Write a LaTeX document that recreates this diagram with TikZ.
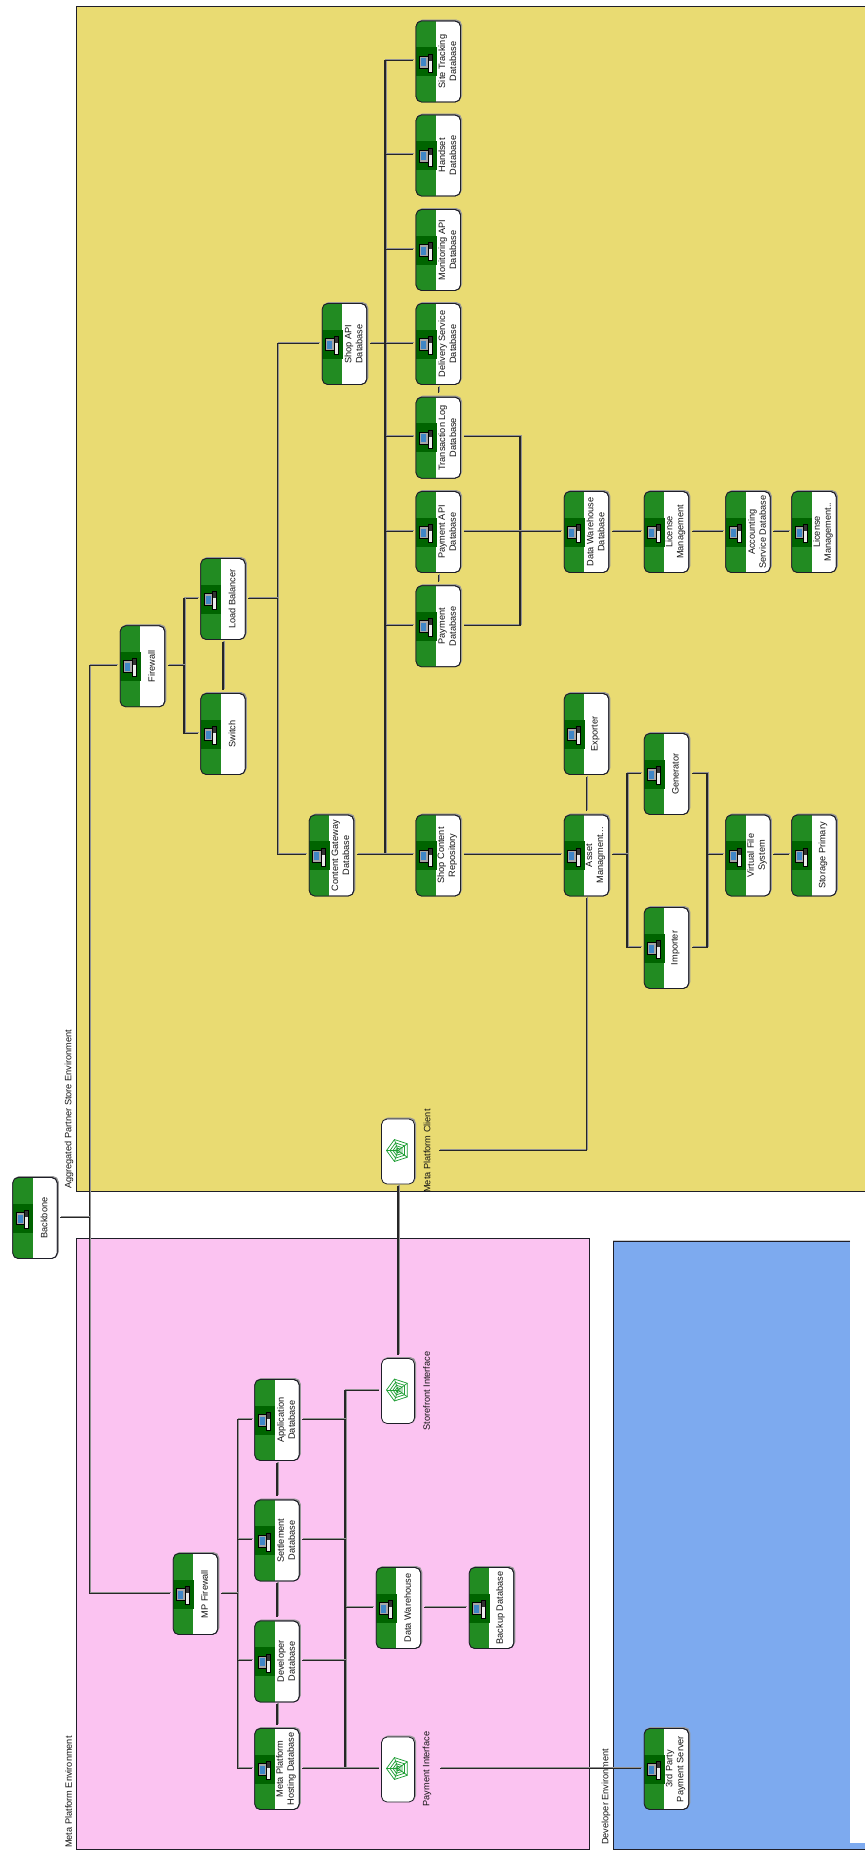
\documentclass[tikz,border=0pt]{standalone}
\usepackage{fontspec}
\setmainfont{Liberation Sans}
\usetikzlibrary{shadows,calc}
\definecolor{yel}{HTML}{E9DB72}
\definecolor{pnk}{HTML}{FBC3F1}
\definecolor{blu}{HTML}{7DAAEF}
\definecolor{grn}{HTML}{228B22}
\definecolor{dgrn}{HTML}{006400}
\definecolor{webg}{HTML}{1F9E35}
\definecolor{edge}{HTML}{1E1E28}
\definecolor{mon}{HTML}{3F86C6}
\newcommand{\pcicon}{%
  \fill[grn] (0,-41) rectangle (20,41);
  \fill[dgrn] (0,-14.5) rectangle (20.7,14.5);
  \draw[black,line width=.8,fill=gray!70] (3.2,-5.5) rectangle (12,6.5);
  \fill[mon] (5,-3.5) rectangle (10.2,4.5);
  \draw[black,line width=.8,fill=white!85!gray] (12,-7.5) rectangle (16,10.5);
  \fill[black!80] (12.5,-7) rectangle (15.5,-1);
}
\newcommand{\webicon}{%
  \foreach \r in {11.5,8,5,2.5}{
    \draw[webg,line width=.75] (180:\r) -- (108:\r) -- (36:\r) -- (-36:\r) -- (-108:\r) -- cycle;}
  \foreach \a in {180,108,36,-36,-108}{\draw[webg,line width=.75] (0,0) -- (\a:11.5);}
}
\tikzset{
  x=1pt,y=-1pt,
  dbbox/.style={draw=edge,fill=white,line width=.8pt,rectangle,rounded corners=5.5pt,
    minimum width=44.5pt,minimum height=81pt,inner sep=0pt,outer sep=3pt,
    copy shadow={shadow xshift=1.1pt,shadow yshift=1.1pt,draw=gray!80,fill=gray!80}},
  webbox/.style={draw=edge,fill=white,line width=.8pt,rectangle,rounded corners=5.5pt,
    minimum width=33pt,minimum height=65pt,inner sep=0pt,outer sep=3pt,
    copy shadow={shadow xshift=1.1pt,shadow yshift=1.1pt,draw=gray!80,fill=gray!80}},
  dbtext/.style={rotate=90,align=center,inner sep=0pt,text=black!92,
    font=\fontsize{9.2}{11}\selectfont},
  envtext/.style={rotate=90,anchor=west,inner sep=0pt,text=black!92,
    font=\fontsize{9.2}{11}\selectfont},
  iftext/.style={rotate=90,inner sep=0pt,outer sep=9pt,text=black!92,
    font=\fontsize{9.2}{11}\selectfont},
  conn/.style={draw=black!85,line width=1.2pt,
    preaction={draw=gray!85,line width=1.4pt,transform canvas={shift={(.9pt,.9pt)}}}},
}
\newcommand{\dbn}[4]{%
  \node[dbbox] (#1) at (#2,#3) {};
  \begin{scope}[shift={(#2-22.25,#3)}]
    \begin{scope}
      \clip[rounded corners=5.5pt] (0,-40.5) rectangle (44.5,40.5);
      \pcicon
    \end{scope}
    \draw[edge,line width=.8pt,rounded corners=5.5pt] (0,-40.5) rectangle (44.5,40.5);
  \end{scope}
  \node[dbtext] (#1-text) at (#2+9,#3) {#4};
}
\newcommand{\webn}[3]{%
  \node[webbox] (#1) at (#2,#3) {};
  \begin{scope}[shift={(#2,#3-1)}]\webicon\end{scope}
}
\begin{document}
\begin{tikzpicture}
\useasboundingbox (0,0) rectangle (865,1850);
% environments
\fill[yel] (76,6.5) rectangle (865,1191);
\draw[edge,line width=.9pt] (865,6.5) -- (76,6.5) -- (76,1191) -- (865,1191);
\fill[pnk] (76,1238) rectangle (589,1849);
\draw[edge,line width=.9pt] (76,1238) rectangle (589,1849);
\fill[blu] (613,1241) rectangle (865,1849);
\fill[white] (850,1241) rectangle (865,1843);
\draw[gray!40,line width=.8pt] (613,1240.3) -- (850,1240.3);
\draw[edge,line width=.9pt] (850,1241) -- (613,1241) -- (613,1849) -- (865,1849);
\node[envtext] (envA) at (69,1189) {Aggregated Partner Store Environment};
\node[envtext] (envM) at (68.5,1848) {Meta Platform Environment};
\node[envtext] (envD) at (606,1845) {Developer Environment};
% yellow nodes
\dbn{backbone}{35}{1218}{Backbone}
\dbn{firewall}{142.5}{666.3}{Firewall}
\dbn{lb}{223}{599}{Load Balancer}
\dbn{switch}{223}{734}{Switch}
\dbn{shopapi}{344.5}{344}{Shop API\\Database}
\dbn{gateway}{331.5}{855.5}{Content Gateway\\Database}
\dbn{sitetrack}{438.3}{61.5}{Site Tracking\\Database}
\dbn{handset}{438.3}{155.5}{Handset\\Database}
\dbn{monitor}{438.3}{250}{Monitoring API\\Database}
\dbn{delivery}{438.3}{344}{Delivery Service\\Database}
\dbn{translog}{438.3}{437.7}{Transaction Log\\Database}
\dbn{payapi}{438.3}{532}{Payment API\\Database}
\dbn{paydb}{438.3}{626.3}{Payment\\Database}
\dbn{shopcontent}{438.3}{855.5}{Shop Content\\Repository}
\dbn{dwdb}{586.5}{532}{Data Warehouse\\Database}
\dbn{exporter}{586.5}{734}{Exporter}
\dbn{asset}{586.5}{855.5}{Asset\\Managment...}
\dbn{license}{666.5}{532}{License\\Management}
\dbn{generator}{666.5}{774}{Generator}
\dbn{importer}{666.5}{948}{Importer}
\dbn{accounting}{748}{532}{Accounting\\Service Database}
\dbn{vfs}{748}{855.5}{Virtual File\\System}
\dbn{license2}{814}{532}{License\\Management..}
\dbn{storage}{814}{855.5}{Storage Primary}
\webn{mpclient}{398}{1151.5}
\node[iftext] (mpclient-label) at (427,1151) {Meta Platform Client};
% pink nodes
\dbn{mpfw}{195.5}{1594}{MP Firewall}
\dbn{appdb}{277}{1420}{Application\\Database}
\dbn{settle}{277}{1540.5}{Settlement\\Database}
\dbn{devdb}{277}{1661.5}{Developer\\Database}
\dbn{hosting}{277}{1769}{Meta Platform\\Hosting Database}
\dbn{dw}{398.5}{1608}{Data Warehouse}
\dbn{backup}{491.5}{1608}{Backup Database}
\webn{storefront}{398}{1391}
\node[iftext] (storefront-label) at (426.5,1391) {Storefront Interface};
\webn{payif}{398}{1769.5}
\node[iftext] (payif-label) at (427,1769) {Payment Interface};
% blue
\dbn{third}{666.5}{1769}{3rd Party\\Payment Server}
% bus positions
\coordinate (busMain) at (89.3,0);
\coordinate (busFw) at (184,0);
\coordinate (busLb) at (277.5,0);
\coordinate (busApi) at (385,0);
\coordinate (busLog) at (520,0);
\coordinate (busAsset) at (627,0);
\coordinate (busVfs) at (707,0);
\coordinate (busMp) at (237.7,0);
\coordinate (busPink) at (345,0);
% connectors
\begin{scope}[transform canvas={yshift=.9pt}]
\draw[conn] (firewall.west) -- (firewall.west -| busMain) -- (mpfw.west -| busMain) -- (mpfw.west);
\draw[conn] (backbone.east) -- (backbone.east -| busMain);
\draw[conn] (lb.west -| busFw) -- (lb.west);
\draw[conn] (lb.west -| busFw) -- (switch.west -| busFw) -- (switch.west);
\draw[conn] (firewall.east) -- (firewall.east -| busFw);
\draw[conn] (lb.south) -- (switch.north);
\draw[conn] (shopapi.west) -- (shopapi.west -| busLb) -- (gateway.west -| busLb) -- (gateway.west);
\draw[conn] (lb.east) -- (lb.east -| busLb);
\draw[conn] (shopapi.east) -- (shopapi.east -| busApi);
\draw[conn] (sitetrack.west) -- (sitetrack.west -| busApi) -- (gateway.east -| busApi);
\draw[conn] (handset.west) -- (handset.west -| busApi);
\draw[conn] (monitor.west) -- (monitor.west -| busApi);
\draw[conn] (delivery.west) -- (delivery.west -| busApi);
\draw[conn] (translog.west) -- (translog.west -| busApi);
\draw[conn] (payapi.west) -- (payapi.west -| busApi);
\draw[conn] (paydb.west) -- (paydb.west -| busApi);
\draw[conn] (gateway.east) -- (shopcontent.west);
\draw[conn] (delivery.south) -- (translog.north);
\draw[conn] (payapi.south) -- (paydb.north);
\draw[conn] (translog.east) -- (translog.east -| busLog) -- (paydb.east -| busLog) -- (paydb.east);
\draw[conn] (payapi.east) -- (dwdb.west);
\draw[conn] (dwdb.east) -- (license.west);
\draw[conn] (license.east) -- (accounting.west);
\draw[conn] (accounting.east) -- (license2.west);
\draw[conn] (shopcontent.east) -- (asset.west);
\draw[conn] (asset.north) -- (exporter.south);
\draw[conn] (generator.west) -- (generator.west -| busAsset) -- (importer.west -| busAsset) -- (importer.west);
\draw[conn] (asset.east) -- (asset.east -| busAsset);
\draw[conn] (generator.east) -- (generator.east -| busVfs) -- (importer.east -| busVfs) -- (importer.east);
\draw[conn] (vfs.west -| busVfs) -- (vfs.west);
\draw[conn] (vfs.east) -- (storage.west);
\draw[conn] (mpclient-label.south) -- (mpclient-label.south -| asset.south) -- (asset.south);
\draw[conn] (mpclient.south) -- (storefront.north);
\draw[conn] (appdb.west) -- (appdb.west -| busMp) -- (hosting.west -| busMp) -- (hosting.west);
\draw[conn] (mpfw.east) -- (mpfw.east -| busMp);
\draw[conn] (settle.west) -- (settle.west -| busMp);
\draw[conn] (devdb.west) -- (devdb.west -| busMp);
\draw[conn] (appdb.south) -- (settle.north);
\draw[conn] (settle.south) -- (devdb.north);
\draw[conn] (devdb.south) -- (hosting.north);
\draw[conn] (storefront.west) -- (storefront.west -| busPink) -- (payif.west -| busPink) -- (payif.west);
\draw[conn] (hosting.east) -- (hosting.east -| busPink);
\draw[conn] (appdb.east) -- (appdb.east -| busPink);
\draw[conn] (settle.east) -- (settle.east -| busPink);
\draw[conn] (devdb.east) -- (devdb.east -| busPink);
\draw[conn] (dw.west -| busPink) -- (dw.west);
\draw[conn] (dw.east) -- (backup.west);
\draw[conn] (payif-label.south) -- (third.west);
\end{scope}
\end{tikzpicture}
\end{document}
